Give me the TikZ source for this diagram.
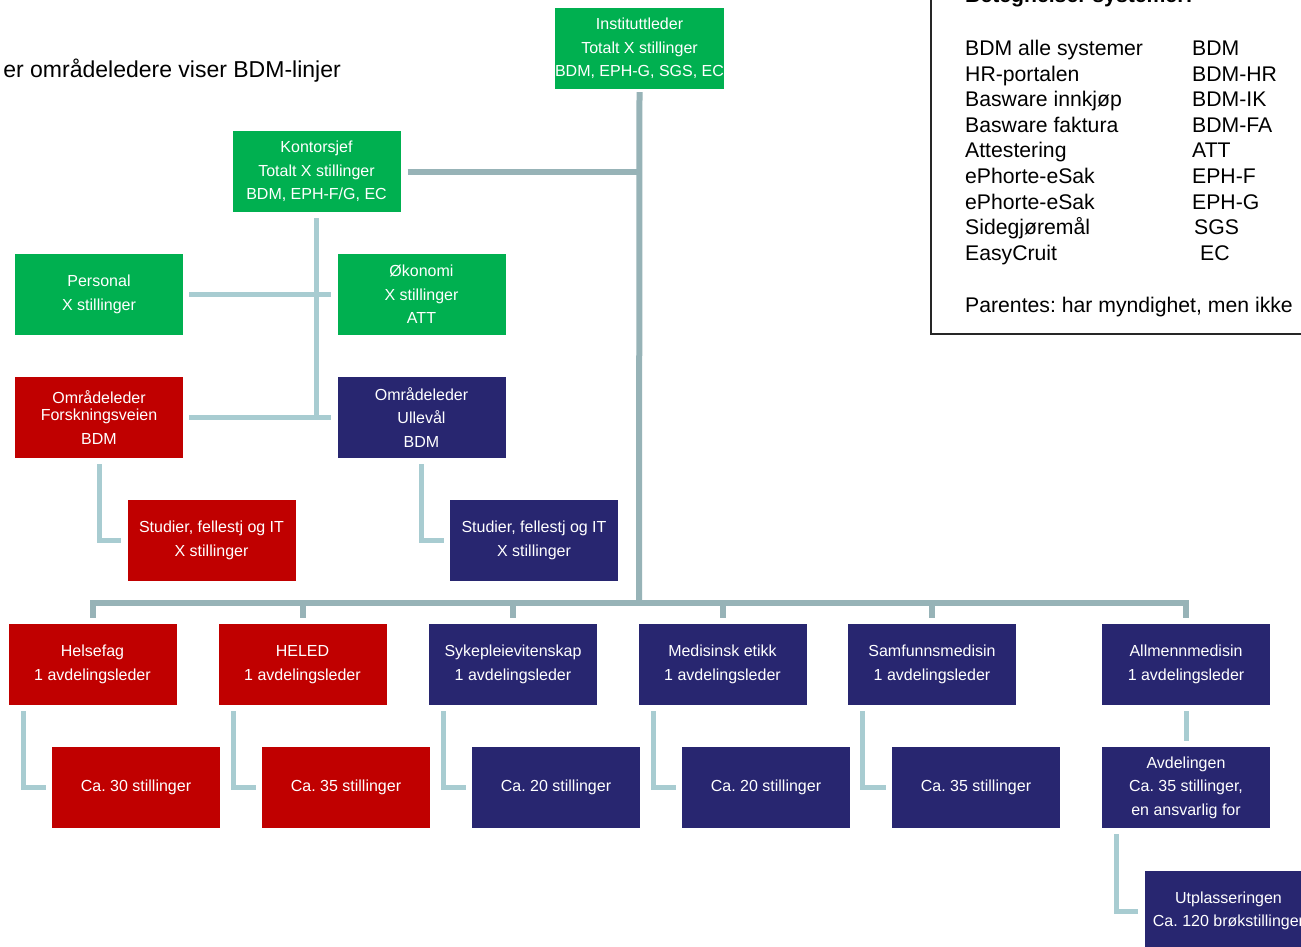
\documentclass[tikz,border=0pt]{standalone}
\usepackage{fontspec}
\setmainfont{Liberation Sans}
\frenchspacing
\definecolor{gr}{HTML}{00B050}
\definecolor{rd}{HTML}{C00000}
\definecolor{nv}{HTML}{282670}
\definecolor{trunkc}{HTML}{97B3B7}
\definecolor{connc}{HTML}{A8CCD1}
\begin{document}
\frenchspacing
\begin{tikzpicture}[x=1pt,y=-1pt,
  box/.style={minimum width=168pt, minimum height=81pt, inner sep=0pt, align=center, text=white, font=\fontsize{16}{23.5}\selectfont},
  grbox/.style={box, fill=gr},
  rdbox/.style={box, fill=rd},
  nvbox/.style={box, fill=nv},
  trunk/.style={draw=trunkc, line width=6pt},
  conn/.style={draw=connc, line width=5pt},
  leg/.style={anchor=base west, inner sep=0pt, font=\fontsize{21.2}{24}\selectfont}]
\useasboundingbox (0,0) rectangle (1301,947);
\clip (0,0) rectangle (1301,947);
\fill[white] (0,0) rectangle (1301,947);

% note text
\node[anchor=base east, inner sep=0pt, font=\fontsize{23}{26}\selectfont] (note) at (341,78) {er områdeledere viser BDM-linjer};

% legend
\draw[line width=1.8pt, black!85] (931,-10) rectangle (1320,334);
\node[leg, font=\bfseries\fontsize{21.2}{24}\selectfont] (title) at (965,3) {Betegnelser systemer:};
\foreach \i/\a/\b/\bx in {0/BDM alle systemer/BDM/1192, 1/HR-portalen/BDM-HR/1192, 2/Basware innkjøp/BDM-IK/1192, 3/Basware faktura/BDM-FA/1192, 4/Attestering/ATT/1192, 5/ePhorte-eSak/EPH-F/1192, 6/ePhorte-eSak/EPH-G/1192, 7/Sidegjøremål/SGS/1194, 8/EasyCruit/EC/1200}{
  \node[leg] (la\i) at (965,55.5+25.6*\i) {\a};
  \node[leg] (lb\i) at (\bx,55.5+25.6*\i) {\b};
}
\node[leg] (paren) at (965,312.5) {Parentes: har myndighet, men ikke};

% boxes
\node[grbox] (inst) at (639.5,48.5) {Instituttleder\\Totalt X stillinger\\BDM, EPH-G, SGS, EC};
\node[grbox] (kontor) at (316.5,171.5) {Kontorsjef\\Totalt X stillinger\\BDM, EPH-F/G, EC};
\node[grbox] (pers) at (99,294.5) {Personal\\X stillinger};
\node[grbox] (okon) at (421.5,294.5) {Økonomi\\X stillinger\\ATT};
\node[rdbox] (omrF) at (99,417.5) {Områdeleder\\[-6.5pt]Forskningsveien\\BDM};
\node[nvbox] (omrU) at (421.5,417.5) {Områdeleder\\Ullevål\\BDM};
\node[rdbox] (studF) at (211.5,540.5) {Studier, fellestj og IT\\X stillinger};
\node[nvbox] (studU) at (534,540.5) {Studier, fellestj og IT\\X stillinger};

\node[rdbox] (hf) at (92.5,664.5) {Helsefag\\1 avdelingsleder};
\node[rdbox] (heled) at (302.5,664.5) {HELED\\1 avdelingsleder};
\node[nvbox] (syk) at (513,664.5) {Sykepleievitenskap\\1 avdelingsleder};
\node[nvbox] (med) at (722.5,664.5) {Medisinsk etikk\\1 avdelingsleder};
\node[nvbox] (sam) at (932,664.5) {Samfunnsmedisin\\1 avdelingsleder};
\node[nvbox] (alm) at (1186,664.5) {Allmennmedisin\\1 avdelingsleder};

\node[rdbox] (c30) at (136,787.5) {Ca. 30 stillinger};
\node[rdbox] (c35) at (346,787.5) {Ca. 35 stillinger};
\node[nvbox] (c20) at (556,787.5) {Ca. 20 stillinger};
\node[nvbox] (c20b) at (766,787.5) {Ca. 20 stillinger};
\node[nvbox] (c35b) at (976,787.5) {Ca. 35 stillinger};
\node[nvbox] (avd) at (1186,787.5) {Avdelingen\\Ca. 35 stillinger,\\en ansvarlig for};
\node[nvbox] (utp) at (1228.5,911) {Utplasseringen\\Ca. 120 brøkstillinger};

% trunk connectors
\coordinate (busc) at (639,603);
\draw[trunk] ([yshift=-3pt]inst.south) -- (busc);
\draw[trunk] ([yshift=6pt]hf.north) |- (busc) -| ([yshift=6pt]alm.north);
\foreach \n in {heled,syk,med,sam}{
  \draw[trunk] ([yshift=6pt]\n.north) -- (\n.north |- busc);
}
\draw[trunk] ([xshift=7pt]kontor.east) -- (kontor.east -| busc);

% light connectors
\draw[conn] ([yshift=-6pt]kontor.south) -- (kontor.south |- omrU.west);
\draw[conn] ([xshift=6pt]pers.east) -- ([xshift=-6pt]okon.west);
\draw[conn] ([xshift=6pt]omrF.east) -- ([xshift=-6pt]omrU.west);
\draw[conn] ([yshift=-6pt]omrF.south) |- ([xshift=-6pt]studF.west);
\draw[conn] ([yshift=-6pt]omrU.south) |- ([xshift=-6pt]studU.west);
\draw[conn] ([xshift=15pt,yshift=-6pt]hf.south west) |- ([xshift=-6pt]c30.west);
\draw[conn] ([xshift=15pt,yshift=-6pt]heled.south west) |- ([xshift=-6pt]c35.west);
\draw[conn] ([xshift=15pt,yshift=-6pt]syk.south west) |- ([xshift=-6pt]c20.west);
\draw[conn] ([xshift=15pt,yshift=-6pt]med.south west) |- ([xshift=-6pt]c20b.west);
\draw[conn] ([xshift=15pt,yshift=-6pt]sam.south west) |- ([xshift=-6pt]c35b.west);
\draw[conn] ([yshift=-6pt]alm.south) -- ([yshift=6pt]avd.north);
\draw[conn] ([xshift=15pt,yshift=-6pt]avd.south west) |- ([xshift=-6pt]utp.west);
\end{tikzpicture}
\end{document}
